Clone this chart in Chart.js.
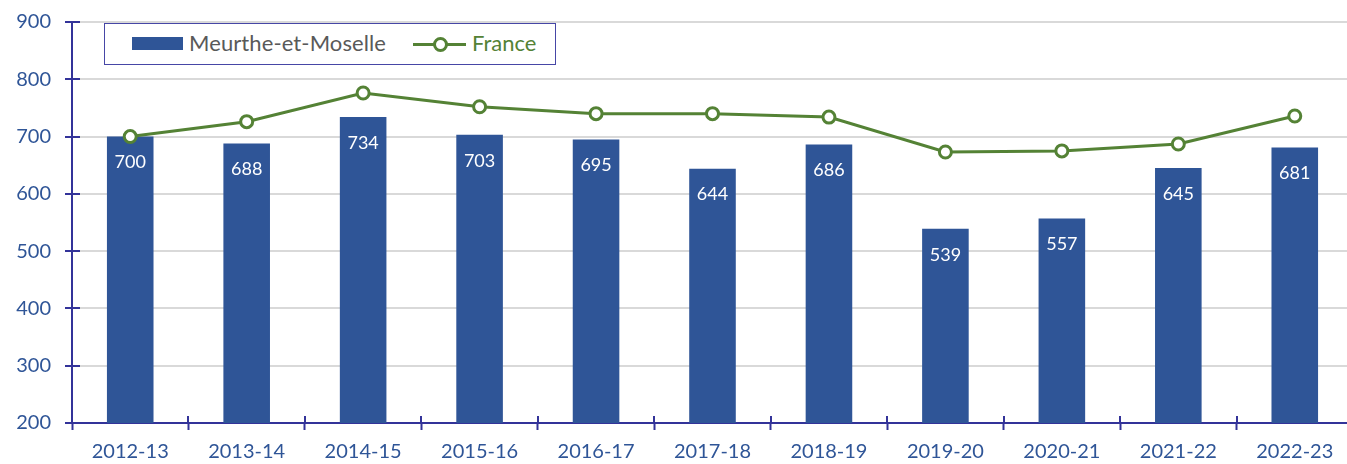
<!DOCTYPE html>
<html>
<head>
<meta charset="utf-8">
<script src="https://cdn.jsdelivr.net/npm/chart.js@4/dist/chart.umd.min.js"></script>
<style>
  html, body { margin: 0; padding: 0; background: #fff; overflow: hidden; }
  #wrap { position: relative; width: 1347px; height: 464px; overflow: hidden; }
  canvas { position: absolute; left: 0; top: 0; }
  #legend { position: absolute; left: 104px; top: 23px; width: 450px; height: 40px;
    border: 1px solid #4646a6; background: #fff; font-family: Lato, "Open Sans", sans-serif; font-size: 22px; }
  .sw-bar { position: absolute; left: 27px; top: 13px; width: 51px; height: 13px; background: #2F5597; }
  .lbl1 { position: absolute; left: 84px; top: 5px; color: #595959; white-space: nowrap; letter-spacing: 0.1px; }
  .sw-line { position: absolute; left: 308px; top: 12px; width: 53px; height: 16px; }
  .sw-line .ln { position: absolute; left: 0; top: 7px; width: 53px; height: 3px; background: #548235; }
  .sw-line .pt { position: absolute; left: 20px; top: 1px; width: 9px; height: 9px; border: 3px solid #548235; border-radius: 50%; background: #fff; }
  .lbl2 { position: absolute; left: 367px; top: 5px; color: #548235; white-space: nowrap; }
</style>
</head>
<body>
<div id="wrap">
  <canvas id="c" width="1362" height="464"></canvas>
  <div id="legend"></div>
</div>
<script>
const categories = ['2012-13','2013-14','2014-15','2015-16','2016-17','2017-18','2018-19','2019-20','2020-21','2021-22','2022-23'];
const seriesNames = ['Meurthe-et-Moselle', 'France'];
const meurtheValues = [700, 688, 734, 703, 695, 644, 686, 539, 557, 645, 681];
const franceValues = [700, 726, 776, 752, 740, 740, 734, 673, 675, 687, 736];
const yTickValues = [200, 300, 400, 500, 600, 700, 800, 900];

const AXIS = '#333399';
const TICKTXT = '#2F5597';
const FONT = 'Lato, "Open Sans", sans-serif';

// HTML legend built from series names
document.getElementById('legend').innerHTML =
  '<div class="sw-bar"></div><span class="lbl1">' + seriesNames[0] + '</span>' +
  '<div class="sw-line"><div class="ln"></div><div class="pt"></div></div><span class="lbl2">' + seriesNames[1] + '</span>';

const barLabels = {
  id: 'barLabels',
  afterDatasetsDraw(chart) {
    const ctx = chart.ctx;
    const meta = chart.getDatasetMeta(1);
    ctx.save();
    ctx.fillStyle = '#ffffff';
    ctx.font = '18px ' + FONT;
    ctx.textAlign = 'center';
    ctx.textBaseline = 'middle';
    meta.data.forEach((bar, i) => {
      ctx.fillText(String(meurtheValues[i]), bar.x, bar.y + 26);
    });
    ctx.restore();
  }
};

// inner half of "cross" tick marks
const crossTicks = {
  id: 'crossTicks',
  afterDraw(chart) {
    const ctx = chart.ctx;
    const ys = chart.scales.y;
    const area = chart.chartArea;
    ctx.save();
    ctx.strokeStyle = AXIS;
    ctx.lineWidth = 2;
    ctx.beginPath();
    ys.ticks.forEach(t => {
      const y = Math.round(ys.getPixelForValue(t.value));
      ctx.moveTo(area.left, y); ctx.lineTo(area.left + 8, y);
    });
    const n = categories.length;
    const w = (area.right - area.left) / n;
    for (let i = 0; i <= n; i++) {
      const x = Math.round(area.left + i * w);
      ctx.moveTo(x, area.bottom); ctx.lineTo(x, area.bottom - 7);
    }
    ctx.stroke();
    ctx.restore();
  }
};

new Chart(document.getElementById('c'), {
  data: {
    labels: categories,
    datasets: [
      {
        type: 'line',
        label: seriesNames[1],
        data: franceValues,
        borderColor: '#548235',
        borderWidth: 3,
        backgroundColor: '#ffffff',
        pointBackgroundColor: '#ffffff',
        pointBorderColor: '#548235',
        pointBorderWidth: 3,
        pointRadius: 6,
        tension: 0,
        order: 0
      },
      {
        type: 'bar',
        label: seriesNames[0],
        data: meurtheValues,
        backgroundColor: '#2F5597',
        borderWidth: 0,
        categoryPercentage: 1,
        barPercentage: 0.40,
        order: 1
      }
    ]
  },
  options: {
    responsive: false,
    devicePixelRatio: 1,
    animation: false,
    layout: { padding: { top: 22, right: 4.5, left: 0, bottom: 0 } },
    plugins: { legend: { display: false }, tooltip: { enabled: false } },
    scales: {
      x: {
        offset: true,
        grid: { display: true, drawOnChartArea: false, offset: true, tickLength: 7, tickColor: AXIS, tickWidth: 2 },
        border: { display: true, color: AXIS, width: 2 },
        ticks: { color: TICKTXT, font: { family: FONT, size: 20 }, padding: 10, maxRotation: 0 },
        afterFit(scale) { scale.height = 41; scale.paddingLeft = 0; scale.paddingRight = 0; }
      },
      y: {
        min: 200, max: 900,
        afterBuildTicks(scale) { scale.ticks = yTickValues.map(v => ({ value: v })); },
        grid: { color: '#D9D9D9', lineWidth: 2, tickLength: 7, tickColor: AXIS, tickWidth: 2 },
        border: { display: true, color: AXIS, width: 2 },
        ticks: { color: TICKTXT, font: { family: FONT, size: 20 }, padding: 14 },
        afterFit(scale) { scale.width = 72; scale.paddingTop = 0; scale.paddingBottom = 0; }
      }
    }
  },
  plugins: [barLabels, crossTicks]
});
</script>
</body>
</html>
